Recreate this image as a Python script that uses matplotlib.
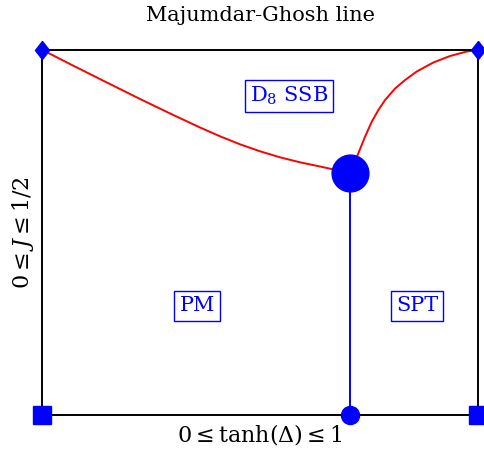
import matplotlib.pyplot as plt

# phase boundary points (x = tanh(Delta), y = 2J)
left_x = [0.0, 0.0707, 0.1474, 0.2239, 0.3003, 0.3617, 0.4076, 0.4535,
	0.4994, 0.5453, 0.5913, 0.6372, 0.6677, 0.705]
left_y = [1.0, 0.957, 0.9112, 0.8658, 0.8219, 0.7877, 0.7636, 0.7416,
	0.7225, 0.7060, 0.6923, 0.6808, 0.6729, 0.663]
right_x = [0.705, 0.7251, 0.7405, 0.7559, 0.7711, 0.7865, 0.8094, 0.8324,
	0.8592, 0.8973, 0.9357, 0.9740, 1.0]
right_y = [0.663, 0.7170, 0.7625, 0.8036, 0.8356, 0.8630, 0.8945, 0.9178,
	0.9411, 0.9658, 0.9836, 0.9959, 1.0]
crit = (0.705, 0.663)

labels = ["D$_8$ SSB", "PM", "SPT"]
label_x = [0.566, 0.355, 0.860]
label_y = [0.874, 0.299, 0.299]

plt.rcParams['font.family'] = 'DejaVu Serif'
plt.rcParams['mathtext.fontset'] = 'dejavuserif'

fig = plt.figure(figsize=(4.84, 4.53), dpi=100)
ax = fig.add_axes([0.0878, 0.0839, 0.9, 0.8057])

ax.plot(left_x, left_y, color='red', lw=1.4, solid_joinstyle='round')
ax.plot(right_x, right_y, color='red', lw=1.4, solid_joinstyle='round')
ax.plot([crit[0], crit[0]], [0, crit[1]], color='blue', lw=1.4)

diamond = [(0, 1), (0.78, 0), (0, -1), (-0.78, 0), (0, 1)]
ax.plot(crit[0], crit[1], 'o', color='blue', ms=26.5, clip_on=False, zorder=5)
ax.plot(crit[0], 0, 'o', color='blue', ms=13, clip_on=False, zorder=5)
ax.plot([0, 1], [0, 0], 's', color='blue', ms=13.5, clip_on=False, zorder=5)
ax.plot([0, 1], [1, 1], marker=diamond, ls='none', color='blue', ms=13, clip_on=False, zorder=5)

for t, x, y in zip(labels, label_x, label_y):
	ax.text(x, y, t, color='blue', fontsize=15, ha='center', va='center',
		bbox=dict(boxstyle='square,pad=0.25', fc='white', ec='blue', lw=1))

ax.set_xlim(0, 1)
ax.set_ylim(0, 1)
ax.set_xticks([])
ax.set_yticks([])
for s in ax.spines.values():
	s.set_linewidth(1.4)

ax.set_title("Majumdar-Ghosh line", fontsize=15, pad=21)
ax.set_xlabel(r"$0 \leq \tanh(\Delta) \leq 1$", fontsize=16, labelpad=5)
ax.set_ylabel(r"$0 \leq J \leq 1/2$", fontsize=16, labelpad=5)

plt.savefig('out.png', dpi=100)
